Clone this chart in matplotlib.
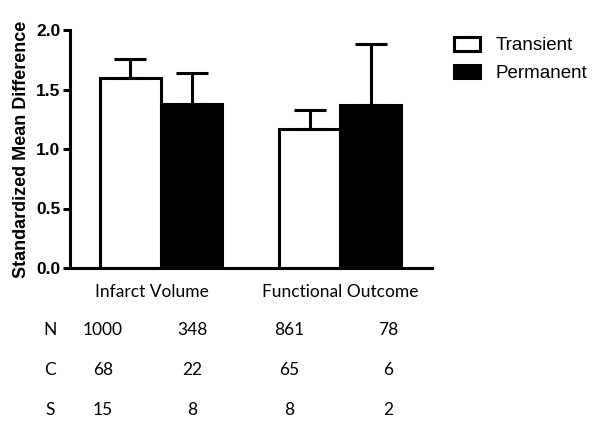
import matplotlib
matplotlib.use("Agg")
import matplotlib.pyplot as plt
import numpy as np
from matplotlib.patches import Patch

categories = ["Infarct Volume", "Functional Outcome"]
series = ["Transient", "Permanent"]
transient_vals = [1.60, 1.17]
transient_err = [0.16, 0.16]
permanent_vals = [1.38, 1.37]
permanent_err = [0.26, 0.51]
row_labels = ["N", "C", "S"]
table_vals = [
    ["1000", "348", "861", "78"],
    ["68", "22", "65", "6"],
    ["15", "8", "8", "2"],
]
y_ticks = [0.0, 0.5, 1.0, 1.5, 2.0]

fig = plt.figure(figsize=(6.0, 4.26), dpi=100)
ax = fig.add_axes([70/600, 1-268/426, 362/600, 238/426])

x = np.arange(len(categories))
w = 0.34
lw = 2.2
eb = dict(ecolor="black", elinewidth=lw, capsize=11.5, capthick=lw)
ax.bar(x - w/2, transient_vals, w, color="white", edgecolor="black", linewidth=lw,
       yerr=[np.zeros(2), transient_err], error_kw=eb, label=series[0], zorder=2)
ax.bar(x + w/2, permanent_vals, w, color="black", edgecolor="black", linewidth=lw,
       yerr=[np.zeros(2), permanent_err], error_kw=eb, label=series[1], zorder=2)

ax.set_xlim(-0.507, 1.51)
ax.set_ylim(0, 2.0)
ax.set_yticks(y_ticks)
ax.set_yticklabels([f"{t:.1f}" for t in y_ticks], fontweight="bold", fontsize=12.5,
                   family="Liberation Sans")
ax.tick_params(axis="y", width=lw, length=5, pad=2)
ax.set_xticks([])
for s in ["top", "right"]:
    ax.spines[s].set_visible(False)
for s in ["left", "bottom"]:
    ax.spines[s].set_linewidth(lw)
ax.set_ylabel("Standardized Mean Difference", fontweight="bold", fontsize=13,
              family="Liberation Sans", labelpad=4)

handles = [Patch(facecolor="white", edgecolor="black", linewidth=lw, label=series[0]),
           Patch(facecolor="black", edgecolor="black", linewidth=lw, label=series[1])]
fig.legend(handles=handles, loc="upper left", bbox_to_anchor=(454/600, 1-37/426),
           frameon=False, prop={"family": "Liberation Sans", "size": 13.5},
           borderpad=0, borderaxespad=0,
           handlelength=1.4, handleheight=0.75, handletextpad=0.8, labelspacing=0.55)

txt = dict(family="Lato", fontsize=12.5, ha="center", va="center")
cat_x = [152, 340]
for c, cx in zip(categories, cat_x):
    fig.text(cx/600, 1-292/426, c, **txt)
col_x = [103, 192, 289, 388]
row_y = [330, 370, 410]
for lab, ry, vals in zip(row_labels, row_y, table_vals):
    fig.text(50/600, 1-ry/426, lab, **txt)
    for v, cx in zip(vals, col_x):
        fig.text(cx/600, 1-ry/426, v, **txt)

fig.savefig("out.png", dpi=100)
